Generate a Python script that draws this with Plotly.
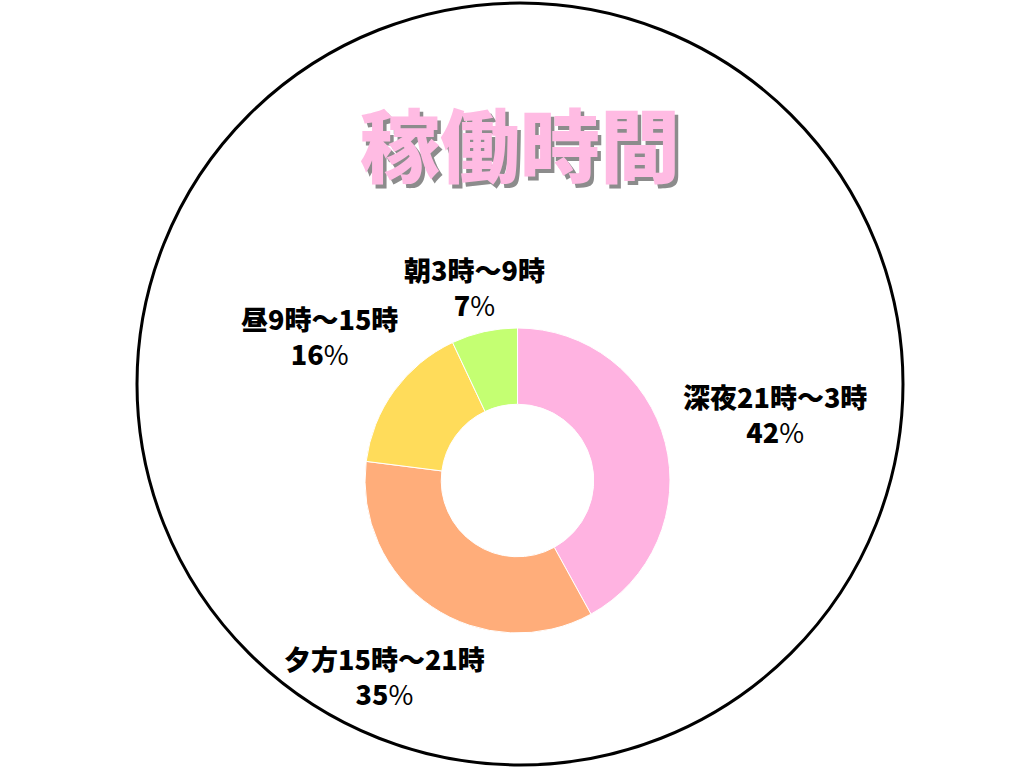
import math
import plotly.graph_objects as go

# ---- data ----
labels = ["深夜21時～3時", "夕方15時～21時", "昼9時～15時", "朝3時～9時"]
values = [42, 35, 16, 7]
colors = ["#FFB3E1", "#FFAD7A", "#FFDC5A", "#C4FF72"]
title_text = "稼働時間"

# ---- layout constants (pixels) ----
W, H = 1024, 768
CX, CY = 517.5, 480.5   # donut centre (from top-left)
R = 152.5
label_dist = [266, 236, 245, 198]

fig = go.Figure(go.Pie(
    labels=labels,
    values=values,
    marker=dict(colors=colors, line=dict(color="white", width=1)),
    hole=0.5,
    sort=False,
    direction="clockwise",
    rotation=0,
    textinfo="none",
    hoverinfo="label+percent",
    showlegend=False,
    domain=dict(x=[(CX - R) / W, (CX + R) / W],
                y=[(H - CY - R) / H, (H - CY + R) / H]),
))

annotations = []
total = sum(values)
cum = 0
for lab, v, d in zip(labels, values, label_dist):
    frac = (cum + v / 2) / total
    cum += v
    th = math.radians(90 - 360 * frac)
    px = CX + d * math.cos(th)
    py = CY - d * math.sin(th)
    annotations.append(dict(
        x=px / W, y=1 - py / H, xref="paper", yref="paper",
        text=f"{lab}<br>{v}<span style='font-weight:400'>%</span>",
        showarrow=False, xanchor="center", yanchor="middle",
        font=dict(family="Noto Sans CJK JP", size=27, color="black", weight=900),
    ))

# title with drop shadow
TX, TY = 520, 141
annotations.append(dict(
    x=TX / W, y=1 - TY / H, xref="paper", yref="paper",
    text=title_text, showarrow=False, xanchor="center", yanchor="middle",
    font=dict(family="Noto Sans CJK JP", size=80, color="#FFBBE3", weight=900,
              shadow="3.5px 3.5px 0px #8c8c8c"),
))

fig.update_layout(
    width=W, height=H,
    margin=dict(l=0, r=0, t=0, b=0),
    paper_bgcolor="white", plot_bgcolor="white",
    annotations=annotations,
    shapes=[dict(
        type="circle", xref="paper", yref="paper",
        x0=137 / W, x1=903 / W, y0=1 - 765 / H, y1=1 - 3 / H,
        line=dict(color="black", width=3), fillcolor="rgba(0,0,0,0)",
        layer="below",
    )],
)

fig.write_html("out.html", config={"displayModeBar": False},
               post_script="document.body.style.margin='0';")
